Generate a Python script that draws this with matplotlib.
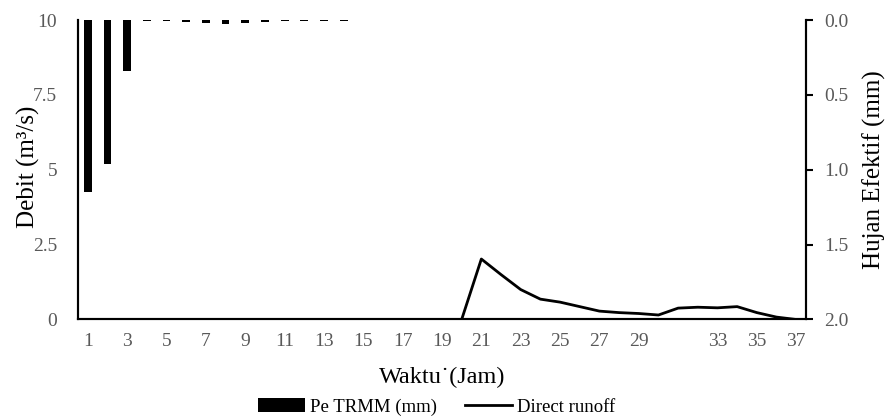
import numpy as np
import matplotlib
matplotlib.use('Agg')
import matplotlib.pyplot as plt

plt.rcParams['font.family'] = ['Liberation Serif', 'DejaVu Serif']

# data
jam = np.arange(1, 38)
pe_trmm = [1.15, 0.96, 0.34, 0.006, 0.008, 0.012, 0.018, 0.024, 0.018, 0.012,
           0.003, 0.003, 0.003, 0.003] + [0] * 23
runoff = [0] * 20 + [2.02, 1.5, 1.0, 0.68, 0.58, 0.43, 0.28, 0.23, 0.2, 0.15,
                     0.38, 0.41, 0.39, 0.43, 0.23, 0.08, 0.0]
tick_labels = [str(i) if (i % 2 == 1 and i != 31) else '' for i in jam]

fig = plt.figure(figsize=(8.93, 4.2), dpi=100)
ax1 = fig.add_axes([0.0873, 0.2393, 0.8153, 0.7127])
ax2 = ax1.twinx()

l1, = ax1.plot(jam, runoff, color='black', lw=2, label='Direct runoff')
b1 = ax2.bar(jam, pe_trmm, width=0.4, color='black', label='Pe TRMM (mm)')

ax1.set_xlim(0.5, 37.5)
ax1.set_ylim(0, 10)
ax1.set_yticks([0, 2.5, 5, 7.5, 10])
ax1.set_yticklabels(['0', '2.5', '5', '7.5', '10'])
ax1.set_xticks(jam)
ax1.set_xticklabels(tick_labels)
ax2.set_ylim(2, 0)
ax2.set_yticks([0, 0.5, 1.0, 1.5, 2.0])
ax2.set_yticklabels(['0.0', '0.5', '1.0', '1.5', '2.0'])

for ax in (ax1, ax2):
    ax.spines['top'].set_visible(False)
    for s in ('left', 'right', 'bottom'):
        ax.spines[s].set_linewidth(1.5)
ax1.tick_params(axis='x', length=0, labelsize=14, labelcolor='#595959', pad=10)
ax1.tick_params(axis='y', length=0, labelsize=14, labelcolor='#595959', pad=15)
ax2.tick_params(axis='y', length=5, width=1.5, labelsize=14, labelcolor='#595959', pad=8)

ax1.set_xlabel('Waktu\u02d9(Jam)', fontsize=17.5, labelpad=12)
ax1.set_ylabel('Debit (m³/s)', fontsize=18)
ax1.yaxis.set_label_coords(-0.052, 0.51)
ax2.set_ylabel('Hujan Efektif (mm)', fontsize=18, labelpad=10)

fig.legend([b1, l1], ['Pe TRMM (mm)', 'Direct runoff'], loc='center',
           bbox_to_anchor=(0.489, 0.031), ncol=2, frameon=False, fontsize=13.5,
           handlelength=2.5, handletextpad=0.25, columnspacing=1.5)

plt.savefig('out.png', dpi=100)
